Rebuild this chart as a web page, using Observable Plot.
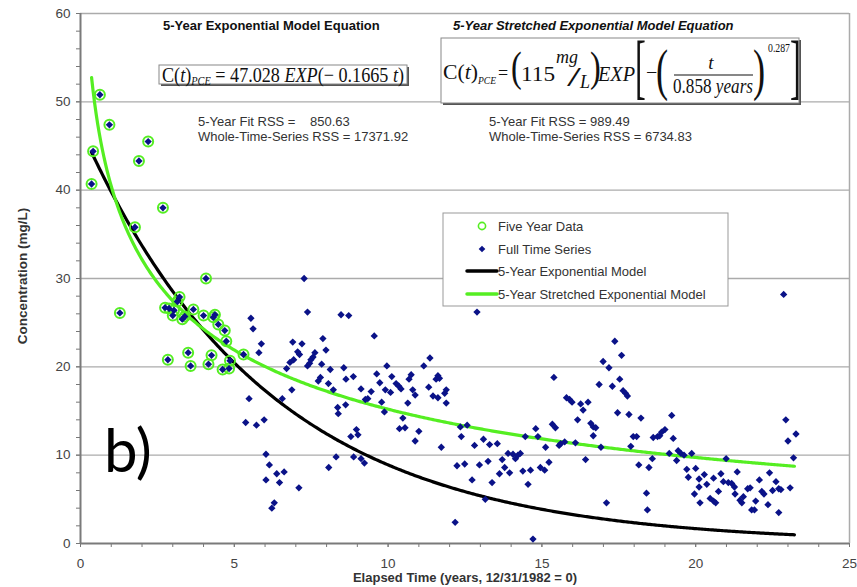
<!DOCTYPE html>
<html><head><meta charset="utf-8">
<script src="https://cdn.jsdelivr.net/npm/d3@7"></script>
<script src="https://cdn.jsdelivr.net/npm/@observablehq/plot@0.6"></script>
<style>
html,body{margin:0;padding:0;background:#fff;}
#chart{width:857px;height:587px;}
</style></head><body><div id="chart"></div>
<script>
// PCE concentration samples: [elapsed years since 12/31/1982, concentration mg/L]
// First five years of record (used to fit both models)
const fiveYearData = [
  [0.36,40.7],[0.41,44.4],[0.63,50.8],[0.94,47.4],[1.28,26.1],[1.77,35.8],[1.9,43.3],[2.2,45.5],
  [2.68,38.0],[2.75,26.7],[2.84,20.8],[2.88,26.6],[3.0,25.8],[3.04,26.4],[3.15,27.4],[3.22,27.9],
  [3.31,25.4],[3.39,25.7],[3.5,21.6],[3.58,20.1],[3.67,26.5],[4.0,25.8],[4.08,30.0],[4.16,20.3],
  [4.26,21.3],[4.32,25.6],[4.37,25.9],[4.48,24.8],[4.62,19.7],[4.69,24.1],[4.74,22.9],[4.83,19.8],
  [4.86,20.7],[5.3,21.4]
];
// Remainder of the monitoring record
const laterData = [
  [5.37,13.7],[5.48,16.4],[5.54,25.5],[5.61,24.3],[5.72,13.4],[5.8,21.6],[5.88,22.6],[5.97,14.0],
  [6.03,10.1],[6.03,7.2],[6.14,8.9],[6.22,4.0],[6.3,4.6],[6.38,7.9],[6.47,6.9],[6.56,16.4],
  [6.62,8.1],[6.7,19.8],[6.81,20.5],[6.87,17.4],[6.9,22.8],[6.93,20.8],[7.06,21.7],[7.1,6.3],
  [7.12,21.4],[7.2,22.6],[7.27,30.0],[7.38,26.2],[7.38,20.1],[7.45,20.4],[7.49,20.8],[7.56,21.1],
  [7.62,21.6],[7.73,18.4],[7.8,18.8],[7.84,20.3],[7.88,23.2],[7.98,21.9],[8.06,18.1],[8.07,8.6],
  [8.12,19.7],[8.22,17.4],[8.31,9.8],[8.36,15.4],[8.38,14.7],[8.47,25.9],[8.56,19.9],[8.62,15.7],
  [8.63,18.6],[8.72,25.8],[8.79,12.1],[8.87,18.9],[8.88,9.8],[8.97,12.9],[9.02,12.3],[9.12,17.5],
  [9.12,9.6],[9.23,9.1],[9.26,16.3],[9.34,16.4],[9.45,17.2],[9.55,23.5],[9.63,19.2],[9.73,18.2],
  [9.79,16.0],[9.88,14.9],[9.91,17.4],[9.96,20.1],[10.08,17.1],[10.12,18.9],[10.26,18.1],[10.35,17.8],
  [10.37,13.0],[10.42,17.5],[10.48,14.2],[10.55,13.1],[10.64,15.9],[10.68,18.6],[10.75,19.1],[10.8,17.4],
  [10.88,16.8],[10.88,11.6],[11.0,12.7],[11.16,20.1],[11.32,17.7],[11.36,21.0],[11.46,16.7],[11.56,18.6],
  [11.62,19.0],[11.62,16.5],[11.67,18.7],[11.73,10.9],[11.84,17.0],[11.89,17.4],[11.89,15.9],[12.18,2.4],
  [12.24,8.8],[12.35,13.2],[12.38,12.1],[12.49,9.0],[12.57,13.4],[12.73,7.2],[12.81,11.1],[12.89,26.2],
  [12.97,8.9],[13.1,11.8],[13.16,5.0],[13.25,9.3],[13.3,11.2],[13.38,6.9],[13.55,11.3],[13.62,7.9],
  [13.71,9.5],[13.79,8.6],[13.9,10.2],[13.95,8.0],[14.06,10.1],[14.14,9.6],[14.22,10.0],[14.3,10.2],
  [14.38,8.2],[14.46,12.1],[14.55,6.7],[14.63,8.3],[14.71,0.5],[14.8,13.0],[14.87,12.1],[14.95,8.6],
  [15.09,8.3],[15.12,10.9],[15.23,9.2],[15.34,13.5],[15.39,18.8],[15.44,13.1],[15.56,11.1],[15.61,11.3],
  [15.74,11.5],[15.8,16.5],[15.9,16.3],[15.98,16.0],[16.09,11.4],[16.16,14.0],[16.26,15.8],[16.34,15.1],
  [16.42,9.5],[16.5,16.0],[16.59,13.6],[16.67,13.2],[16.67,12.2],[16.75,13.1],[16.86,18.0],[16.92,10.9],
  [16.99,20.6],[17.1,4.6],[17.18,19.9],[17.29,17.8],[17.37,22.9],[17.46,14.8],[17.53,18.6],[17.59,21.3],
  [17.64,17.3],[17.72,17.0],[17.78,16.7],[17.83,14.6],[17.89,11.0],[17.97,12.1],[18.08,12.1],[18.15,8.9],
  [18.22,14.2],[18.4,5.7],[18.43,3.8],[18.48,8.6],[18.59,9.6],[18.62,12.0],[18.76,12.1],[18.83,12.2],
  [18.89,12.6],[19.0,12.9],[19.14,10.2],[19.22,14.5],[19.27,11.9],[19.38,9.4],[19.43,10.5],[19.52,10.2],
  [19.62,10.0],[19.71,8.4],[19.76,7.5],[19.87,10.2],[19.96,5.6],[20.0,8.5],[20.11,6.4],[20.11,7.3],
  [20.14,4.6],[20.28,7.8],[20.36,6.7],[20.47,5.1],[20.58,4.8],[20.58,7.4],[20.65,4.6],[20.74,5.9],
  [20.82,7.9],[20.9,7.0],[20.99,9.6],[21.06,6.9],[21.17,6.8],[21.26,6.4],[21.28,5.6],[21.35,8.1],
  [21.44,4.9],[21.5,4.6],[21.55,5.3],[21.69,6.2],[21.77,6.3],[21.82,3.8],[21.91,3.8],[21.95,4.8],
  [22.07,7.2],[22.15,5.9],[22.22,5.6],[22.35,4.4],[22.4,8.0],[22.5,6.0],[22.61,7.0],[22.7,6.2],
  [22.7,3.5],[22.77,6.1],[22.86,28.2],[22.93,14.0],[23.0,11.6],[23.07,6.3],[23.18,9.7],[23.26,12.4]
];

const xTicks = [0, 5, 10, 15, 20, 25];
const yTicks = [0, 10, 20, 30, 40, 50, 60];
const xMinorTicks = d3.range(0, 26, 1);
const yMinorTicks = d3.range(0, 61, 2);

// Fitted model parameters (as printed in the equations)
const expC0 = 47.028, expK = 0.1665;                       // C = C0 exp(-k t)
const strC0 = 115, strTau = 0.858, strBeta = 0.287;        // C = C0 exp(-(t/tau)^beta)
const rss = {exp: {fit: "850.63", whole: "17371.92"}, str: {fit: "989.49", whole: "6734.83"}};
const modelSpan = [0.36, 23.25];

const fiveYear = fiveYearData.map(([t, c]) => ({t, c}));
const fullSeries = fiveYearData.concat(laterData).map(([t, c]) => ({t, c}));
const tGrid = d3.range(modelSpan[0], modelSpan[1] + 1e-9, 0.05);
const expModel = tGrid.map(t => ({t, c: expC0 * Math.exp(-expK * t)}));
const strModel = tGrid.map(t => ({t, c: strC0 * Math.exp(-Math.pow(t / strTau, strBeta))}));

const BLUE = "#0a1288", GREEN = "#55ee22", SANS = "'Liberation Sans', Arial, sans-serif", SERIF = "'Liberation Serif', 'Times New Roman', serif";

const chart = Plot.plot({
  width: 857, height: 587,
  marginLeft: 80, marginRight: 8, marginTop: 13, marginBottom: 44,
  style: {fontFamily: SANS, fontSize: "13.5px", color: "#444", background: "#fff", overflow: "visible"},
  x: {domain: [0, 25], label: null},
  y: {domain: [0, 60], label: null},
  marks: [
    Plot.ruleY(yTicks.slice(1), {stroke: "#ababab", strokeWidth: 1.3}),
    Plot.ruleX([25], {stroke: "#ababab", strokeWidth: 1.5}),
    Plot.axisX({ticks: xMinorTicks, tickSize: 4, tickFormat: () => "", stroke: "#777", label: null}),
    Plot.axisX({ticks: xTicks, tickSize: 4, tickPadding: 11, stroke: "#777", label: null}),
    Plot.axisY({ticks: yMinorTicks, tickSize: 4, tickFormat: () => "", stroke: "#777", label: null}),
    Plot.axisY({ticks: yTicks, tickSize: 4, tickPadding: 6, stroke: "#777", label: null}),
    Plot.ruleY([0], {stroke: "#7a7a7a", strokeWidth: 2}),
    Plot.ruleX([0], {stroke: "#7a7a7a", strokeWidth: 2}),
    Plot.line(expModel, {x: "t", y: "c", stroke: "#000", strokeWidth: 3.2}),
    Plot.line(strModel, {x: "t", y: "c", stroke: GREEN, strokeWidth: 3.2}),
    Plot.dot(fiveYear, {x: "t", y: "c", r: 5, stroke: GREEN, strokeWidth: 2, fill: "none"}),
    Plot.dot(fullSeries, {x: "t", y: "c", symbol: "diamond2", r: 3.3, fill: BLUE, stroke: "none"})
  ]
});
document.getElementById("chart").appendChild(chart);

// ---- annotations: axis titles, equations, fit statistics, legend ----
const svg = d3.select(chart);
const ann = svg.append("g").attr("font-family", SANS).attr("text-anchor", "start");

function txt(parent, x, y, s, opts = {}) {
  const t = parent.append("text").attr("x", x).attr("y", y).text(s)
    .attr("font-size", opts.size || 12).attr("fill", opts.fill || "#222")
    .attr("font-weight", opts.weight || "normal").attr("font-style", opts.style || "normal")
    .attr("text-anchor", opts.anchor || "start")
    .attr("font-family", opts.family || SANS);
  if (opts.fit) t.attr("textLength", opts.fit).attr("lengthAdjust", "spacingAndGlyphs");
  return t;
}
// a glyph squeezed horizontally around its own anchor (tall brackets / parentheses)
function squeezed(parent, x, y, s, size, sx) {
  return txt(parent, x, y, s, {size, family: SERIF, fill: "#111"})
    .attr("transform", `translate(${x},${y}) scale(${sx},1) translate(${-x},${-y})`);
}

// axis titles
txt(ann, 465, 582, "Elapsed Time (years, 12/31/1982 = 0)", {size: 13, weight: "bold", anchor: "middle", fill: "#333"});
txt(ann, 0, 0, "Concentration (mg/L)", {size: 13.5, weight: "bold", anchor: "middle", fill: "#333"})
  .attr("transform", "translate(27,276) rotate(-90)");

// panel tag
txt(ann, 104, 472, "b)", {size: 60, family: "Lato, 'Liberation Sans', sans-serif", fill: "#000"});

// exponential model block
txt(ann, 163, 30, "5-Year Exponential Model Equation", {size: 13, weight: "bold", fill: "#111"});
const box1 = ann.append("g");
box1.append("rect").attr("x", 161).attr("y", 67).attr("width", 248).attr("height", 19).attr("fill", "#555");
box1.append("rect").attr("x", 159).attr("y", 65).attr("width", 248).attr("height", 19).attr("fill", "#fff").attr("stroke", "#888");
const eq1 = box1.append("text").attr("x", 162).attr("y", 82).attr("font-family", SERIF).attr("font-size", 21)
  .attr("text-anchor", "start").attr("textLength", 242).attr("lengthAdjust", "spacingAndGlyphs").attr("fill", "#111");
eq1.append("tspan").text("C(");
eq1.append("tspan").attr("font-style", "italic").text("t");
eq1.append("tspan").text(")");
eq1.append("tspan").attr("font-style", "italic").attr("font-size", 12).attr("dy", 3).text("PCE");
eq1.append("tspan").attr("dy", -3).text(" = " + expC0.toFixed(3) + " ");
eq1.append("tspan").attr("font-style", "italic").text("EXP");
eq1.append("tspan").text("(\u2212 " + expK + " ");
eq1.append("tspan").attr("font-style", "italic").text("t");
eq1.append("tspan").text(")");

txt(ann, 198, 126, "5-Year Fit RSS =", {size: 13, fill: "#333"});
txt(ann, 310, 126, rss.exp.fit, {size: 13, fill: "#333"});
txt(ann, 198, 141, "Whole-Time-Series RSS = " + rss.exp.whole, {size: 13, fill: "#333"});

// stretched exponential model block
txt(ann, 453, 30, "5-Year Stretched Exponential Model Equation", {size: 13, weight: "bold", style: "italic", fill: "#111"});
const box2 = ann.append("g").attr("font-family", SERIF).attr("fill", "#111");
box2.append("rect").attr("x", 443).attr("y", 40).attr("width", 358).attr("height", 65).attr("fill", "#555");
box2.append("rect").attr("x", 441).attr("y", 38).attr("width", 358).attr("height", 65).attr("fill", "#fff").attr("stroke", "#888");
const serif = (x, y, s, size, opts = {}) => txt(box2, x, y, s, Object.assign({size, family: SERIF, fill: "#111"}, opts));
const lhs = box2.append("text").attr("x", 443).attr("y", 79).attr("font-size", 21).attr("fill", "#111")
  .attr("text-anchor", "start").attr("textLength", 35).attr("lengthAdjust", "spacingAndGlyphs");
lhs.append("tspan").text("C(");
lhs.append("tspan").attr("font-style", "italic").text("t");
lhs.append("tspan").text(")");
serif(478, 84, "PCE", 11, {style: "italic", fit: 18});
serif(498, 79, "=", 18);
squeezed(box2, 511, 81, "(", 43, 0.75);
serif(521, 81, String(strC0), 22, {fit: 34});
serif(556, 63, "mg", 19, {style: "italic", fit: 22});
squeezed(box2, 567, 86, "/", 28, 1.8);
serif(580, 88, "L", 18, {style: "italic"});
squeezed(box2, 590, 81, ")", 43, 0.75);
serif(598, 81, "EXP", 22, {style: "italic", fit: 37});
squeezed(box2, 635, 90, "[", 72, 0.45);
serif(646, 79, "\u2212", 20);
squeezed(box2, 656, 89, "(", 56, 0.65);
serif(711, 69, "t", 19, {style: "italic", anchor: "middle"});
box2.append("line").attr("x1", 674).attr("x2", 753).attr("y1", 75).attr("y2", 75).attr("stroke", "#111").attr("stroke-width", 1.2);
const den = box2.append("text").attr("x", 673).attr("y", 93).attr("text-anchor", "start").attr("font-size", 21)
  .attr("fill", "#111").attr("textLength", 80).attr("lengthAdjust", "spacingAndGlyphs");
den.append("tspan").text(strTau + " ");
den.append("tspan").attr("font-style", "italic").text("years");
squeezed(box2, 753, 89, ")", 56, 0.65);
serif(768, 52, String(strBeta), 12, {fit: 22});
squeezed(box2, 790, 90, "]", 72, 0.45);

txt(ann, 489, 126, "5-Year Fit RSS =", {size: 13, fill: "#333"});
txt(ann, 590, 126, rss.str.fit, {size: 13, fill: "#333"});
txt(ann, 489, 141, "Whole-Time-Series RSS = " + rss.str.whole, {size: 13, fill: "#333"});

// legend
const leg = ann.append("g");
leg.append("rect").attr("x", 443).attr("y", 213).attr("width", 285).attr("height", 93).attr("fill", "#fff").attr("stroke", "#999");
const legendItems = ["Five Year Data", "Full Time Series", "5-Year Exponential Model", "5-Year Stretched Exponential Model"];
const rowY = [226, 249, 271, 294];
leg.append("circle").attr("cx", 482).attr("cy", rowY[0]).attr("r", 3.6).attr("fill", "none").attr("stroke", GREEN).attr("stroke-width", 1.6);
leg.append("path").attr("d", d3.symbol(d3.symbolDiamond2, 28)()).attr("transform", `translate(482,${rowY[1]})`).attr("fill", BLUE);
leg.append("line").attr("x1", 467).attr("x2", 497).attr("y1", rowY[2]).attr("y2", rowY[2]).attr("stroke", "#000").attr("stroke-width", 3.5).attr("stroke-linecap", "round");
leg.append("line").attr("x1", 467).attr("x2", 497).attr("y1", rowY[3]).attr("y2", rowY[3]).attr("stroke", GREEN).attr("stroke-width", 3.5).attr("stroke-linecap", "round");
legendItems.forEach((s, i) => txt(leg, 498, rowY[i] + 4.5, s, {size: 13, fill: "#333"}));
</script></body></html>
